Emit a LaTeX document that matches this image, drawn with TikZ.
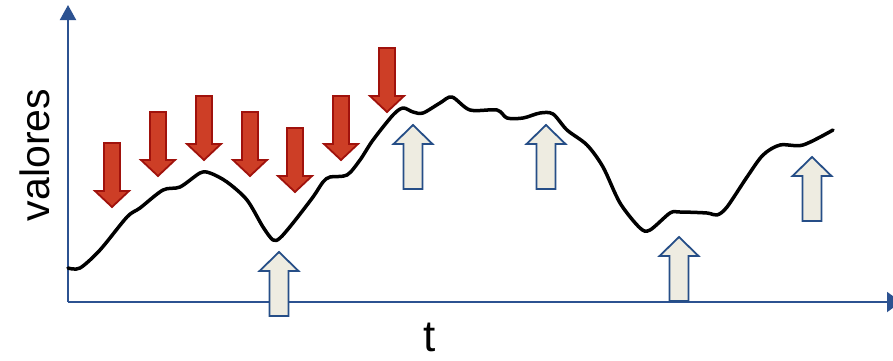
\documentclass[tikz,border=0pt]{standalone}
\usepackage{fontspec}
\setmainfont{Liberation Sans}
\usepackage{tikz}
\usetikzlibrary{arrows.meta,positioning}

\definecolor{axisblue}{RGB}{44,82,145}
\definecolor{redfill}{RGB}{205,62,38}
\definecolor{redline}{RGB}{160,18,12}
\definecolor{creamfill}{RGB}{238,236,225}
\definecolor{creamline}{RGB}{38,78,135}

\tikzset{
    axisline/.style={draw=axisblue, line width=2pt},
    signal/.style={draw=black, line width=3.5pt, line join=round, line cap=round},
    redarr/.style={fill=redfill, draw=redline, line width=1.8pt, line join=miter},
    upnarr/.style={fill=creamfill, draw=creamline, line width=1.8pt, line join=miter},
    downpic/.pic={
        \path[redarr] (0,0) -- (-17,-16) -- (-8,-16) -- (-8,-64) -- (8,-64) -- (8,-16) -- (17,-16) -- cycle;
    },
    uppic/.pic={
        \path[upnarr] (0,0) -- (-19.5,19) -- (-9.5,19) -- (-9.5,64) -- (9.5,64) -- (9.5,19) -- (19.5,19) -- cycle;
    }
}

\begin{document}
\begin{tikzpicture}[x=1pt,y=-1pt]
    \useasboundingbox (0,0) rectangle (893,360);
    \clip (0,0) rectangle (893,360);

    % axes
    \coordinate (o) at (68,302);
    \coordinate (ytop) at (68,5);
    \coordinate (xend) at (901,302);
    \draw[axisline, -{Triangle[width=16pt,length=15pt]}] (o) -- (ytop);
    \draw[axisline, -{Triangle[width=20pt,length=14pt]}] (o) -- (xend);

    \node[rotate=90, font=\fontsize{41}{41}\selectfont, inner sep=0pt] (yl) at (35,155) {valores};
    \node[font=\fontsize{44}{44}\selectfont, inner sep=0pt, anchor=base] (tl) at (430,351) {t};

    % signal
    \draw[signal] plot[smooth, tension=0.5] coordinates {
        (68,268) (80,268) (100,250) (127,217) (140,208) (163,190) (180,187)
        (200,173) (210,173) (227,182) (247,200) (263,227) (273,240) (280,238)
        (293,223) (313,197) (323,182) (330,177) (347,175) (360,160) (373,140)
        (393,115) (403,108) (413,112) (423,113) (440,103) (452,97) (470,110)
        (497,110) (507,118) (523,118) (540,113) (553,114) (567,130) (587,145)
        (603,167) (620,203) (640,228) (650,230) (670,213) (680,212) (707,213)
        (717,215) (727,207) (747,177) (763,155) (780,145) (803,145) (833,130)};

    % down arrows
    \pic (d1) at (112,207) {downpic};
    \pic (d2) at (158,176) {downpic};
    \pic (d3) at (204,160) {downpic};
    \pic (d4) at (250,176) {downpic};
    \pic (d5) at (295,192) {downpic};
    \pic (d6) at (341,160) {downpic};
    \pic (d7) at (387,112) {downpic};

    % up arrows
    \pic (u1) at (279,252) {uppic};
    \pic (u2) at (413,125) {uppic};
    \pic (u3) at (546,125) {uppic};
    \pic (u4) at (679,237) {uppic};
    \pic (u5) at (812,157) {uppic};
\end{tikzpicture}
\end{document}
